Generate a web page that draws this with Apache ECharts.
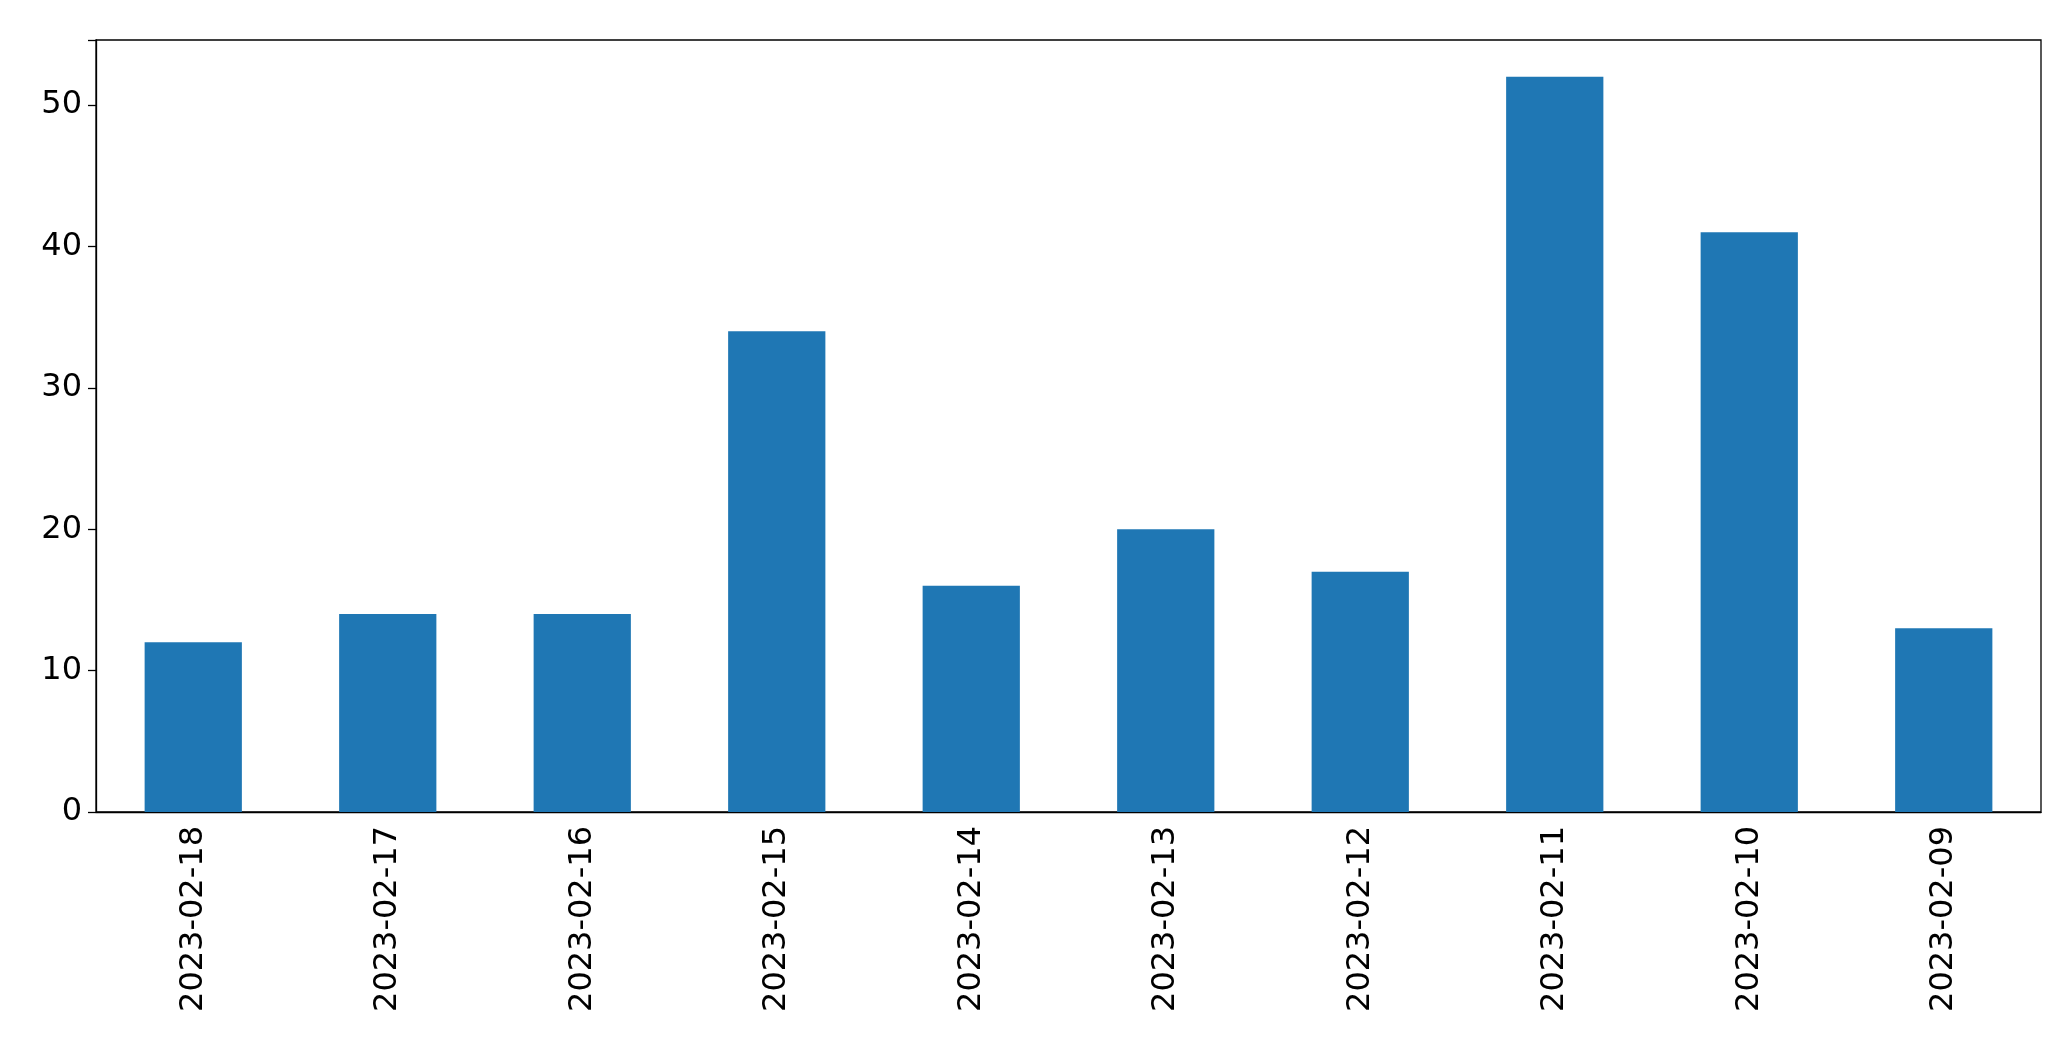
<!DOCTYPE html>
<html><head><meta charset="utf-8">
<script src="https://cdn.jsdelivr.net/npm/echarts@6/dist/echarts.min.js"></script>
<style>html,body{margin:0;padding:0;background:#fff}#c{width:2071px;height:1061px}</style>
</head><body><div id="c"></div>
<script>
const categories = ['2023-02-18','2023-02-17','2023-02-16','2023-02-15','2023-02-14','2023-02-13','2023-02-12','2023-02-11','2023-02-10','2023-02-09'];
const values = [12,14,14,34,16,20,17,52,41,13];
const yTicks = [0,10,20,30,40,50];
const chart = echarts.init(document.getElementById('c'));
const font = 'DejaVu Sans';
chart.setOption({
  animation:false,
  grid:{left:96,right:30,top:40,bottom:249,show:true,borderColor:'#000',borderWidth:1.3},
  xAxis:{type:'category',data:categories,
    axisLine:{lineStyle:{color:'#000',width:1.3}},
    axisTick:{alignWithLabel:true,length:8,lineStyle:{color:'#000',width:1.3}},
    axisLabel:{rotate:90,fontSize:32,color:'#000',fontFamily:font,margin:14,interval:0}},
  yAxis:{type:'value',min:0,max:54.6,interval:10,
    splitLine:{show:false},
    axisLine:{show:true,lineStyle:{color:'#000',width:1.3}},
    axisTick:{show:true,length:8,lineStyle:{color:'#000',width:1.3}},
    axisLabel:{fontSize:32,color:'#000',fontFamily:font,margin:14,
      formatter:v=>yTicks.includes(v)?String(v):''}},
  series:[{type:'bar',data:values,barWidth:'50%',itemStyle:{color:'#1f77b4'}}]
});
</script></body></html>
